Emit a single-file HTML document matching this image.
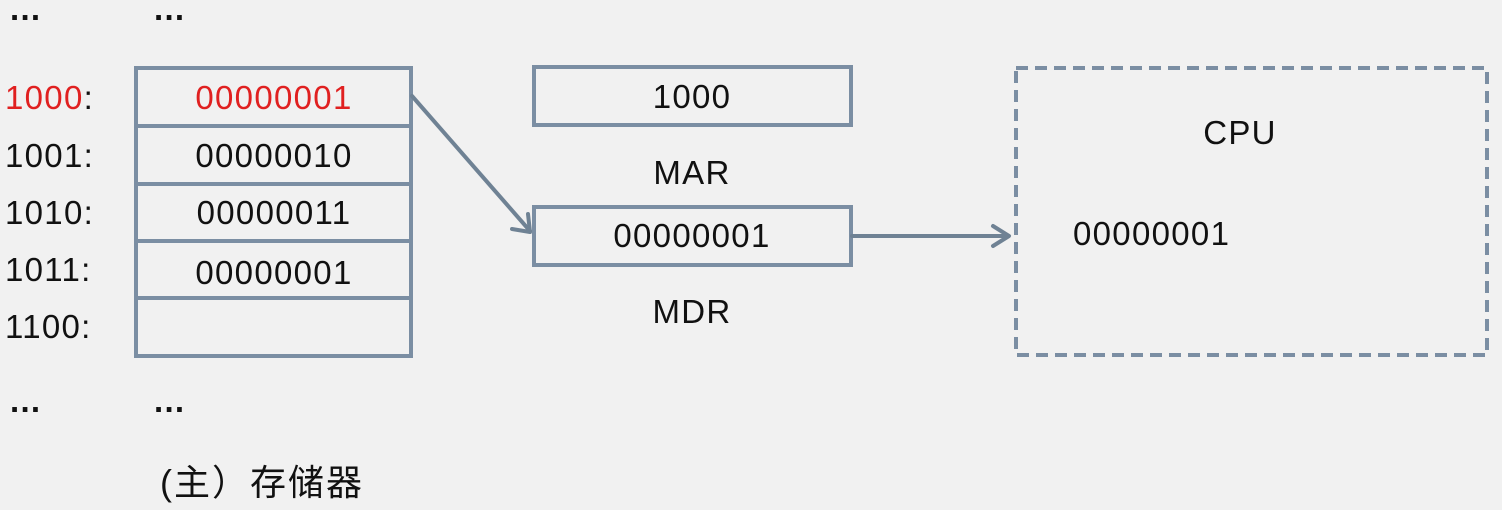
<!DOCTYPE html>
<html><head><meta charset="utf-8"><style>
html,body{margin:0;padding:0;background:#f1f1f1;}
svg{display:block}
text{font-family:"Liberation Sans","Noto Sans CJK SC",sans-serif;font-size:33px;fill:#111;letter-spacing:1.3px;}
</style></head><body>
<svg width="1502" height="510" viewBox="0 0 1502 510">
<rect width="1502" height="510" fill="#f1f1f1"/>
<g stroke="#7b8ea3" stroke-width="4" fill="none">
<rect x="136" y="68" width="275" height="288"/>
<line x1="136" y1="126" x2="411" y2="126"/>
<line x1="136" y1="184" x2="411" y2="184"/>
<line x1="136" y1="241" x2="411" y2="241"/>
<line x1="136" y1="298" x2="411" y2="298"/>
<rect x="534" y="67" width="317" height="58"/>
<rect x="534" y="207" width="317" height="58"/>
<rect x="1016" y="68" width="471" height="287" stroke-dasharray="12,7"/>
</g>
<g stroke="#6f8294" stroke-width="4" fill="none" stroke-linecap="round" stroke-linejoin="round">
<line x1="412" y1="96" x2="530" y2="231"/>
<polyline points="512,229 530,232 528,214"/>
<line x1="852" y1="236" x2="1008" y2="236"/>
<polyline points="993,226 1009,236 993,246"/>
</g>
<text x="10" y="20" style="font-weight:bold">...</text>
<text x="154" y="20" style="font-weight:bold">...</text>
<text x="5" y="109"><tspan fill="#e02020">1000</tspan>:</text>
<text x="5" y="167">1001:</text>
<text x="5" y="224">1010:</text>
<text x="5" y="281">1011:</text>
<text x="5" y="338">1100:</text>
<text x="10" y="412" style="font-weight:bold">...</text>
<text x="154" y="412" style="font-weight:bold">...</text>
<text x="274" y="109" text-anchor="middle" style="fill:#e02020">00000001</text>
<text x="274" y="167" text-anchor="middle">00000010</text>
<text x="274" y="224" text-anchor="middle">00000011</text>
<text x="274" y="284" text-anchor="middle">00000001</text>
<text x="692" y="108" text-anchor="middle">1000</text>
<text x="692" y="184" text-anchor="middle">MAR</text>
<text x="692" y="247" text-anchor="middle">00000001</text>
<text x="692" y="323" text-anchor="middle">MDR</text>
<text x="1240" y="144" text-anchor="middle">CPU</text>
<text x="1073" y="245">00000001</text>
<text x="160" y="495" style="font-size:36px;letter-spacing:2px">(主）存储器</text>
</svg>
</body></html>
